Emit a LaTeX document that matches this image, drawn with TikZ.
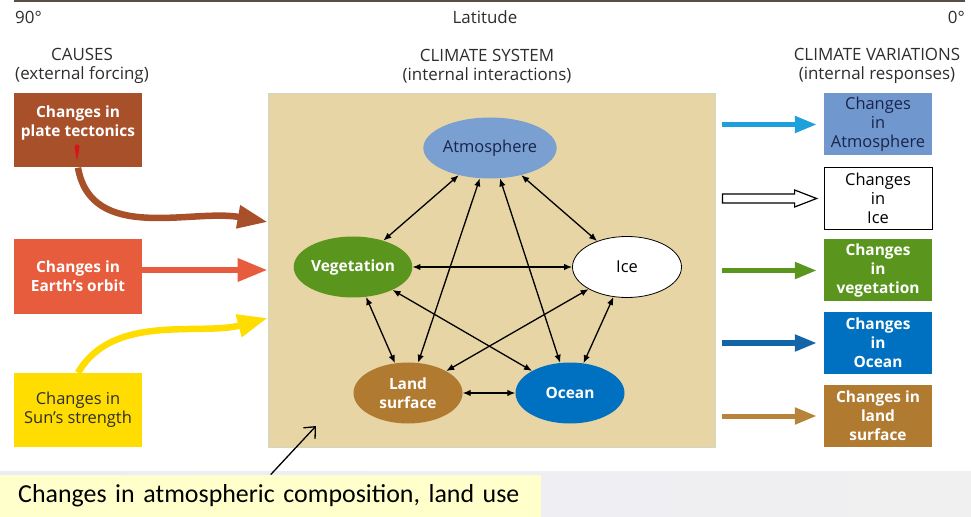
\documentclass[tikz,border=0pt]{standalone}
\usepackage{fontspec}
\setmainfont{Open Sans}
\newfontfamily\notefont{Carlito}
\usepackage{tikz}
\usetikzlibrary{arrows.meta,positioning,calc,shapes.geometric}
\definecolor{inkgrey}{RGB}{45,45,45}
\definecolor{rulegrey}{RGB}{85,80,65}
\definecolor{tectbrown}{RGB}{168,80,42}
\definecolor{orbitred}{RGB}{232,92,62}
\definecolor{sunyellow}{RGB}{255,221,0}
\definecolor{dropred}{RGB}{215,20,30}
\definecolor{sysbeige}{RGB}{232,213,165}
\definecolor{sysedge}{RGB}{205,215,195}
\definecolor{atmblue}{RGB}{122,160,210}
\definecolor{atmbox}{RGB}{112,152,206}
\definecolor{navyink}{RGB}{25,35,75}
\definecolor{veggreen}{RGB}{90,150,30}
\definecolor{landbrown}{RGB}{176,122,48}
\definecolor{oceanblue}{RGB}{0,112,192}
\definecolor{skyarrow}{RGB}{30,160,220}
\definecolor{deepblue}{RGB}{20,100,170}
\definecolor{landarrow}{RGB}{182,132,58}
\definecolor{notebg}{RGB}{255,255,204}
\definecolor{bandleft}{RGB}{236,236,248}
\definecolor{bandmid}{RGB}{222,246,250}
\definecolor{bandright}{RGB}{240,240,240}
\tikzset{
  base/.style={font=\fontsize{16.5}{19}\selectfont, align=center, inner sep=0pt, text=inkgrey},
  heading/.style={base, font=\fontsize{17}{19}\selectfont},
  cause/.style={base, rectangle, fill=#1, minimum width=128bp, minimum height=74bp, text=white, font=\fontsize{15.5}{19}\selectfont\bfseries},
  resp/.style={base, rectangle, fill=#1, minimum width=108bp, minimum height=62bp},
  comp/.style={base, ellipse, fill=#1, minimum width=109bp, minimum height=61bp},
  light/.style={font=\fontsize{15.5}{19}\selectfont\bfseries},
  sysbox/.style={rectangle, fill=sysbeige, draw=sysedge, line width=0.8bp, inner sep=0pt},
  link/.style={{Latex[length=8bp,width=6.5bp]}-{Latex[length=8bp,width=6.5bp]}, line width=1.3bp, draw=black},
  larr/.style={-{Triangle[length=30bp,width=22bp]}, line width=6.5bp, draw=#1},
  rarr/.style={-{Triangle[length=22bp,width=16bp]}, line width=5bp, draw=#1, shorten <=7bp, shorten >=7bp},
  note/.style={rectangle, fill=notebg, inner sep=0pt, font=\notefont\fontsize{26}{30}\selectfont, text=black},
}
\begin{document}
\begin{tikzpicture}[x=1bp,y=1bp]
  \useasboundingbox (0,0) rectangle (971,-517);
  % header
  \draw[rulegrey, line width=2.5bp] (14,-1) -- (965,-1);
  \node[heading, anchor=west] (deg90) at (15,-17) {90°};
  \node[heading] (lat) at (485,-17) {Latitude};
  \node[heading, anchor=east] (deg0) at (965,-17) {0°};
  \node[heading] (hcause) at (82,-66) {CAUSES\\(external forcing)};
  \node[heading] (hsys) at (487,-66) {CLIMATE SYSTEM\\(internal interactions)};
  \node[heading] (hvar) at (877,-66) {CLIMATE VARIATIONS\\(internal responses)};
  % causes
  \node[cause=tectbrown] (tect) at (78,-130.5) {Changes in\\plate tectonics\\\mbox{}};
  \node[cause=orbitred] (orbit) at (78,-276.5) {Changes in\\Earth's orbit};
  \node[cause=sunyellow, text=inkgrey, font=\fontsize{16.5}{19}\selectfont] (sun) at (78,-410) {Changes in\\Sun's strength};
  \fill[dropred] (77,-161) -- (74.5,-147) arc[start angle=180,end angle=0,radius=2.5] -- cycle;
  % climate system
  \node[sysbox, minimum width=447bp, minimum height=354bp] (sys) at (491.5,-270) {};
  \node[comp=atmblue, text=navyink] (atm) at (490,-148) {Atmosphere};
  \node[comp=veggreen, text=white, light] (veg) at (353,-267) {Vegetation};
  \node[comp=white, draw=black, line width=0.8bp, text=black] (ice) at (627,-267) {Ice};
  \node[comp=landbrown, text=white, light] (land) at (408,-393) {Land\\surface};
  \node[comp=oceanblue, text=white, light] (ocean) at (570,-393) {Ocean};
  \foreach \a/\b in {atm/veg,atm/ice,atm/land,atm/ocean,veg/ice,veg/land,veg/ocean,ice/land,ice/ocean,land/ocean}{\draw[link] (\a) -- (\b);}
  \draw[larr=tectbrown] (tect.south) to[out=-80,in=170] ([yshift=48bp]sys.west);
  \draw[larr=orbitred] (orbit.east |- sys.west) -- (sys.west);
  \draw[larr=sunyellow] (sun.north) to[out=60,in=-165,looseness=0.9] ([yshift=-48bp]sys.west);
  % variations
  \node[resp=atmbox, text=navyink] (vatm) at (878,-124.5) {Changes\\in\\Atmosphere};
  \node[resp=white, draw=black, line width=0.8bp, text=black] (vice) at (878,-198.5) {Changes\\in\\Ice};
  \node[resp=veggreen, text=white, light] (vveg) at (878,-270.5) {Changes\\in\\vegetation};
  \node[resp=oceanblue, text=white, light] (vocn) at (878,-343) {Changes\\in\\Ocean};
  \node[resp=landbrown, text=white, light] (vland) at (878,-416) {Changes in\\land\\surface};
  \foreach \b/\c in {vatm/skyarrow,vveg/veggreen,vocn/deepblue,vland/landarrow}{\draw[rarr=\c] (sys.east |- \b.west) -- (\b.west);}
  \coordinate (ia) at ($(sys.east |- vice.west)+(7,0)$);
  \coordinate (ib) at ($(vice.west)+(-7,0)$);
  \draw[black, line width=1.2bp, fill=white] ($(ia)+(0,4.5)$) -- ($(ib)+(-22,4.5)$) -- ($(ib)+(-22,8.5)$) -- (ib) -- ($(ib)+(-22,-8.5)$) -- ($(ib)+(-22,-4.5)$) -- ($(ia)+(0,-4.5)$) -- cycle;
  % note
  \shade[left color=bandleft, middle color=bandmid, right color=bandright] (0,-471) rectangle (971,-517);
  \node[note, anchor=south west, minimum width=541bp, minimum height=42bp, text width=505bp, inner xsep=18bp, align=left] (note) at (0,-517) {Changes in atmospheric composition, land use};
  \coordinate (tgt) at (316,-426);
  \draw[-{Straight Barb[length=9bp,width=16bp]}, line width=1.3bp] (note.north) -- (tgt);
\end{tikzpicture}
\end{document}
